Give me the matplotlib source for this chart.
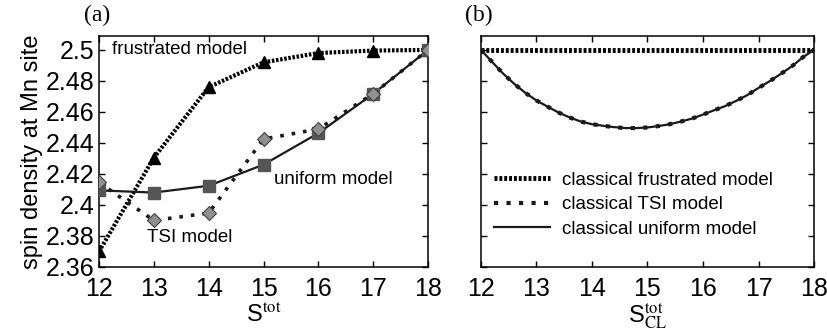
import matplotlib
matplotlib.use("Agg")
import matplotlib.pyplot as plt
import numpy as np

plt.rcParams['font.family'] = ['Liberation Sans', 'DejaVu Sans']
plt.rcParams['mathtext.fontset'] = 'stix'

# Panel (a) data
s_tot = [12, 13, 14, 15, 16, 17, 18]
frustrated = [2.370, 2.4305, 2.476, 2.492, 2.498, 2.4996, 2.500]
tsi = [2.4145, 2.390, 2.3948, 2.4425, 2.449, 2.4717, 2.500]
uniform = [2.4094, 2.408, 2.4124, 2.426, 2.4463, 2.4717, 2.500]

# Panel (b) data (classical models)
s_cl = [12.0, 12.2, 12.4, 12.6, 12.8, 13.0, 13.2, 13.4, 13.6, 13.8, 14.0, 14.2, 14.4,
        14.6, 14.8, 15.0, 15.2, 15.4, 15.6, 15.8, 16.0, 16.2, 16.4, 16.6, 16.8, 17.0,
        17.2, 17.4, 17.6, 17.8, 18.0]
cl_frustrated = [2.5] * len(s_cl)
cl_curve = [2.500, 2.4923, 2.4847, 2.4781, 2.4723, 2.4674, 2.4634, 2.4596, 2.4564,
            2.4538, 2.4521, 2.4511, 2.4502, 2.4496, 2.4496, 2.4500, 2.4509, 2.4521,
            2.4538, 2.4557, 2.4583, 2.4611, 2.4638, 2.4672, 2.4709, 2.4755, 2.4798,
            2.4845, 2.4894, 2.4953, 2.500]
cl_tsi = cl_curve
cl_uniform = cl_curve

yticks = [2.36, 2.38, 2.4, 2.42, 2.44, 2.46, 2.48, 2.5]
ytick_labels = ['2.36', '2.38', '2.4', '2.42', '2.44', '2.46', '2.48', '2.5']
xticks = [12, 13, 14, 15, 16, 17, 18]

fig = plt.figure(figsize=(8.28, 3.36), dpi=100)
ax1 = fig.add_axes([0.1196, 0.2054, 0.3973, 0.6875])
ax2 = fig.add_axes([0.5809, 0.2054, 0.4022, 0.6875])

fs = 14
dense = (0, (0.6, 0.4))
sparse = (0, (1, 2.2))

ax1.plot(s_tot, frustrated, color='black', lw=3, linestyle=dense, marker='^',
         markersize=8, markerfacecolor='black', markeredgecolor='black', zorder=3)
ax1.plot(s_tot, uniform, color='#1a1a1a', lw=1.6, linestyle='-', marker='s',
         markersize=8, markerfacecolor='#555555', markeredgecolor='#555555', zorder=3)
ax1.plot(s_tot, tsi, color='#1a1a1a', lw=2.6, linestyle=sparse, marker='D',
         markersize=7.5, markerfacecolor='#909090', markeredgecolor='#404040',
         markeredgewidth=0.8, zorder=4)

ax1.text(12.245, 2.5, 'frustrated model', fontsize=fs - 0.5, va='center', ha='left')
ax1.text(12.88, 2.379, 'TSI model', fontsize=fs - 0.5, va='center', ha='left')
ax1.text(15.2, 2.4163, 'uniform model', fontsize=fs - 0.5, va='center', ha='left')

ax2.plot(s_cl, cl_frustrated, color='black', lw=3.5, linestyle=dense,
         label='classical frustrated model')
ax2.plot(s_cl, cl_tsi, color='#1a1a1a', lw=3, linestyle=(0, (1, 2.0)),
         label='classical TSI model')
ax2.plot(s_cl, cl_uniform, color='#1a1a1a', lw=1.6, linestyle='-',
         label='classical uniform model')

for ax in (ax1, ax2):
    ax.set_xlim(12, 18)
    ax.set_ylim(2.36, 2.509)
    ax.set_xticks(xticks)
    ax.set_yticks(yticks)
    ax.tick_params(direction='in', top=True, right=True, labelsize=fs + 4,
                   length=4, width=1)
    ax.tick_params(axis='x', pad=7)
    for sp in ax.spines.values():
        sp.set_linewidth(1.1)

ax1.set_yticklabels(ytick_labels)
ax1.set_xticklabels([str(x) for x in xticks])
ax2.set_yticklabels([])
ax2.set_xticklabels([str(x) for x in xticks])

ax1.set_ylabel('spin density at Mn site', fontsize=fs + 3, labelpad=2)
ax1.set_xlabel(r'S$^{\mathrm{tot}}$', fontsize=fs + 3, labelpad=2)
ax2.set_xlabel(r'S$^{\mathrm{tot}}_{\mathrm{CL}}$', fontsize=fs + 3, labelpad=0)

leg = ax2.legend(loc='upper left', bbox_to_anchor=(0.0, 0.47), frameon=False,
                 fontsize=fs - 0.5, handlelength=3.0, handletextpad=0.6,
                 labelspacing=0.4, borderaxespad=0.3)

fig.text(0.117, 0.955, '(a)', fontsize=17, family='Liberation Serif',
         ha='center', va='center')
fig.text(0.578, 0.955, '(b)', fontsize=17, family='Liberation Serif',
         ha='center', va='center')

fig.savefig('out.png', dpi=100)
